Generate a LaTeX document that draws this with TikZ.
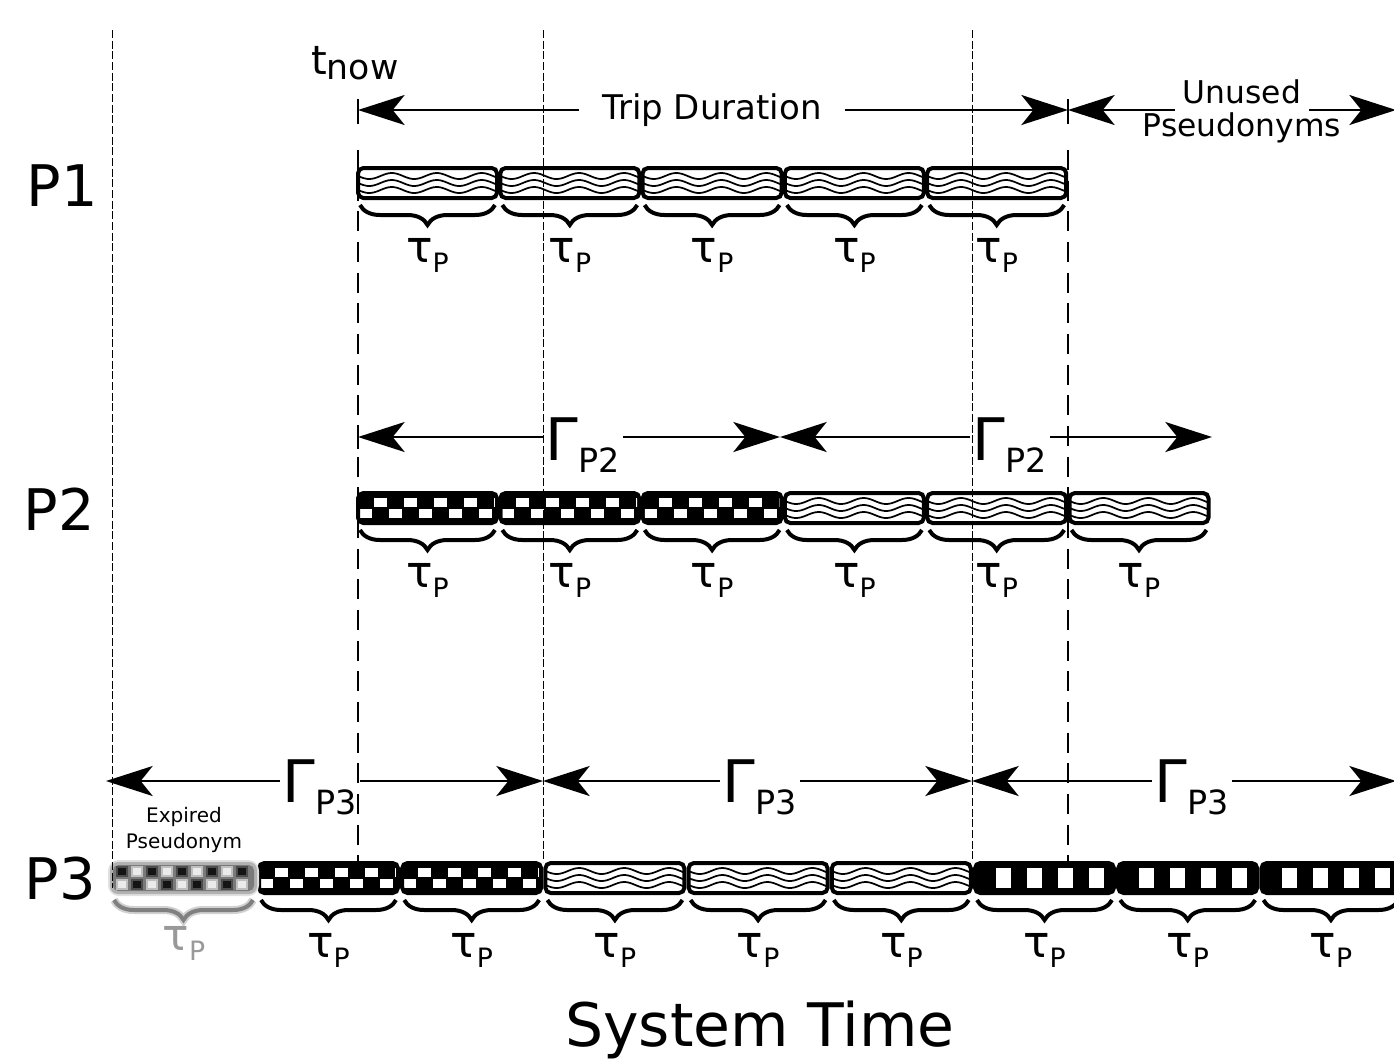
\documentclass[tikz,border=0pt]{standalone}
\usepackage{fontspec}
\setmainfont{DejaVu Sans}
\usetikzlibrary{arrows.meta,decorations.pathreplacing,positioning}

\newcommand{\cellw}{139}
\newcommand{\tauP}{{\fontsize{33}{33}\selectfont τ}\raisebox{-7.5pt}{\fontsize{20}{20}\selectfont P}}
\newcommand{\GammaP}[1]{{\fontsize{44}{44}\selectfont Γ}\raisebox{-9pt}{\fontsize{25}{25}\selectfont P#1}}

% pseudonym cells, #1 = left x, #2 = top y
\newcommand{\wavecell}[2]{%
  \begin{scope}
    \clip[rounded corners=4pt] (#1,#2) rectangle ++(\cellw,30);
    \foreach \k in {0,1,2}
      \draw[line width=1.3pt] plot[domain=0:\cellw,samples=60,smooth] ({#1+\x},{#2+8+7*\k+3*sin(8*\x)});
  \end{scope}
  \draw[cellbox] (#1,#2) rectangle ++(\cellw,30);}
\newcommand{\checkcell}[2]{%
  \fill[rounded corners=4pt] (#1,#2) rectangle ++(\cellw,30);
  \begin{scope}
    \clip (#1+2,#2+2) rectangle (#1+\cellw-2,#2+28);
    \foreach \k in {0,...,4} {
      \fill[white] (#1+16+30*\k,#2+5) rectangle ++(13,9);
      \fill[white] (#1+1+30*\k,#2+16) rectangle ++(13,9);
    }
  \end{scope}
  \draw[cellbox] (#1,#2) rectangle ++(\cellw,30);}
\newcommand{\barcell}[2]{%
  \fill[rounded corners=4pt] (#1,#2) rectangle ++(\cellw,30);
  \foreach \k in {0,...,3}
    \fill[white] (#1+21+31*\k,#2+5) rectangle ++(15,20);
  \draw[cellbox] (#1,#2) rectangle ++(\cellw,30);}
% brace and label under a cell, #3 = node name
\newcommand{\cellbrace}[3]{%
  \draw[cellbrace] (#1+2,#2+37) -- (#1+\cellw-2,#2+37);
  \node[taulabel] (#3) at (#1+\cellw/2,#2+94) {\tauP};}

\begin{document}
\begin{tikzpicture}[x=0.75pt,y=-0.75pt,
  cellbox/.style={line width=3pt,rounded corners=4pt},
  cellbrace/.style={decorate,decoration={brace,mirror,amplitude=15pt},line width=3pt},
  taulabel/.style={anchor=base,inner sep=0pt},
  dimarrow/.style={line width=1.5pt,-{Stealth[length=35pt,width=22.5pt,inset=9pt]}},
  gammalabel/.style={anchor=base west,inner xsep=2pt,inner ysep=0pt},
  rowlabel/.style={font=\fontsize{43}{43}\selectfont},
  thinguide/.style={line width=0.75pt,dash pattern=on 6pt off 2pt},
  nowguide/.style={line width=1.5pt,dash pattern=on 15pt off 8pt}]
  \useasboundingbox (0,0) rectangle (1394,1061);

  % row labels
  \node[rowlabel] (p1) at (62,186) {P1};
  \node[rowlabel] (p2) at (59,509) {P2};
  \node[rowlabel] (p3) at (60,879) {P3};

  % P1 cells
  \foreach \i in {0,...,4} {
    \pgfmathsetmacro{\cx}{358+142.3*\i}
    \wavecell{\cx}{168}
    \cellbrace{\cx}{168}{tau-a\i}
  }
  % P2 cells
  \foreach \i in {0,...,5} {
    \pgfmathsetmacro{\cx}{358+142.3*\i}
    \ifnum\i<3 \checkcell{\cx}{493}\else\wavecell{\cx}{493}\fi
    \cellbrace{\cx}{493}{tau-b\i}
  }
  % P3 cells
  \foreach \i in {0,...,7} {
    \pgfmathsetmacro{\cx}{259+143.2*\i}
    \ifnum\i<2 \checkcell{\cx}{863}\else\ifnum\i<5 \wavecell{\cx}{863}\else\barcell{\cx}{863}\fi\fi
    \cellbrace{\cx}{863}{tau-c\i}
  }

  % expired pseudonym, faded
  \fill[black!12,rounded corners=8pt] (108,860) rectangle ++(151,36);
  \fill[black!30,rounded corners=6pt] (110,862) rectangle ++(147,32);
  \fill[black!52,rounded corners=4pt] (113,865) rectangle ++(141,26);
  \foreach \k in {0,...,4} {
    \fill[black!70] (116+30*\k,866) rectangle ++(12,11);
    \fill[black!92] (118+30*\k,868) rectangle ++(8,7);
    \fill[black!25] (116+30*\k,879) rectangle ++(12,11);
    \fill[black!8] (118+30*\k,881) rectangle ++(8,7);
  }
  \foreach \k in {0,...,3} {
    \fill[black!25] (131+30*\k,866) rectangle ++(12,11);
    \fill[black!8] (133+30*\k,868) rectangle ++(8,7);
    \fill[black!70] (131+30*\k,879) rectangle ++(12,11);
    \fill[black!92] (133+30*\k,881) rectangle ++(8,7);
  }
  \draw[cellbrace,black!18,line width=6pt] (114,900) -- (253,900);
  \draw[cellbrace,black!50] (114,900) -- (253,900);
  \node[taulabel,text=black!40] (tau-x) at (184,950) {\tauP};
  \node[align=center,font=\fontsize{15}{19}\selectfont] (expired) at (184,830) {Expired\\Pseudonym};

  % trip duration and unused pseudonyms
  \coordinate (tl) at (358,110);
  \coordinate (tr) at (1068,110);
  \coordinate (ur) at (1396,110);
  \draw[line width=1.5pt] (358,99) -- (358,124);
  \draw[line width=1.5pt] (1068,99) -- (1068,124);
  \node[inner xsep=17pt,inner ysep=0pt,font=\fontsize{25.5}{25.5}\selectfont] (trip) at (712,110) {Trip Duration};
  \node[anchor=base,inner xsep=6pt,font=\fontsize{23.5}{23.5}\selectfont] (unused) at (1242,103) {Unused};
  \node[anchor=base,font=\fontsize{23.5}{23.5}\selectfont] (pseudo) at (1242,136) {Pseudonyms};
  \draw[dimarrow] (trip.west |- tl) -- (tl);
  \draw[dimarrow] (trip.east |- tl) -- (tr);
  \draw[dimarrow] (unused.west |- tl) -- (tr);
  \draw[dimarrow] (unused.east |- tl) -- (ur);
  \node[anchor=base west,inner sep=0pt] (tnow) at (311,74)
    {{\fontsize{30}{30}\selectfont t}\raisebox{-3.75pt}{\fontsize{26}{26}\selectfont now}};

  % pseudonym lifetime of P2
  \coordinate (p2l) at (358,437);
  \coordinate (p2m) at (780,437);
  \coordinate (p2r) at (1212,437);
  \draw[line width=1.5pt] (358,425) -- (358,449);
  \node[gammalabel] (g2a) at (543,460) {\GammaP{2}};
  \node[gammalabel] (g2b) at (970,460) {\GammaP{2}};
  \draw[dimarrow] (g2a.west |- p2l) -- (p2l);
  \draw[dimarrow] (g2a.east |- p2l) -- (p2m);
  \draw[dimarrow] (g2b.west |- p2l) -- (p2m);
  \draw[dimarrow] (g2b.east |- p2l) -- (p2r);

  % pseudonym lifetime of P3
  \coordinate (p3l) at (106,781);
  \coordinate (p3a) at (543,781);
  \coordinate (p3b) at (972,781);
  \coordinate (p3r) at (1396,781);
  \node[gammalabel] (g3a) at (280,802) {\GammaP{3}};
  \node[gammalabel] (g3b) at (720,802) {\GammaP{3}};
  \node[gammalabel] (g3c) at (1152,802) {\GammaP{3}};
  \draw[dimarrow] (g3a.west |- p3l) -- (p3l);
  \draw[dimarrow] (g3a.east |- p3l) -- (p3a);
  \draw[dimarrow] (g3b.west |- p3l) -- (p3a);
  \draw[dimarrow] (g3b.east |- p3l) -- (p3b);
  \draw[dimarrow] (g3c.west |- p3l) -- (p3b);
  \draw[dimarrow] (g3c.east |- p3l) -- (p3r);

  % time guides
  \draw[thinguide] (112,30) -- (112,888);
  \draw[thinguide] (543,30) -- (543,862);
  \draw[thinguide] (972,30) -- (972,862);
  \draw[nowguide] (358,150) -- (358,862);
  \draw[nowguide] (1068,150) -- (1068,862);

  \node[anchor=base,font=\fontsize{45}{45}\selectfont] (systime) at (760,1046) {System Time};
\end{tikzpicture}
\end{document}
